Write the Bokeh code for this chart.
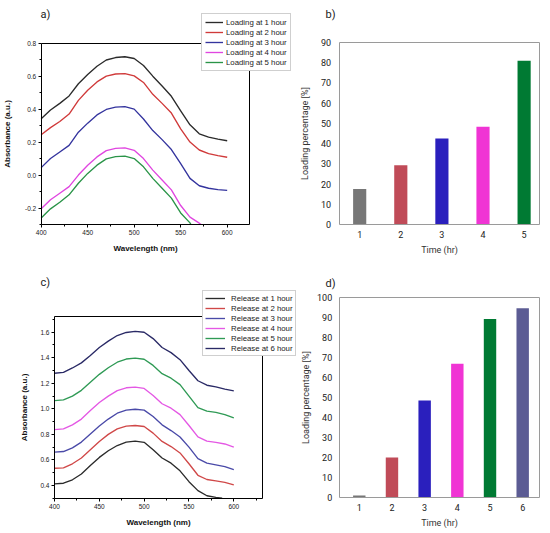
from bokeh.plotting import figure
from bokeh.models import (Legend, LegendItem, Label, LinearAxis, FixedTicker,
                          PrintfTickFormatter, Range1d)
from bokeh.layouts import column, row
from bokeh.embed import file_html
from bokeh.resources import INLINE

# ---------------- data ----------------
wavelength = [400, 410, 420, 430, 440, 450, 460, 470, 480, 490, 500,
              510, 520, 530, 540, 550, 560, 570, 580, 590, 600]
wavelength_load4 = [400, 410, 420, 430, 440, 450, 460, 470, 480, 490, 500,
                    510, 520, 530, 540, 550, 560, 570, 572]
wavelength_load5 = [400, 410, 420, 430, 440, 450, 460, 470, 480, 490, 500,
                    510, 520, 530, 540, 550, 560, 561]
wavelength_rel1 = [400, 410, 420, 430, 440, 450, 460, 470, 480, 490, 500,
                   510, 520, 530, 540, 550, 560, 570, 580, 587]

load_1h = [0.342, 0.395, 0.435, 0.480, 0.554, 0.610, 0.660, 0.698, 0.713, 0.718, 0.707,
           0.665, 0.600, 0.540, 0.478, 0.390, 0.305, 0.250, 0.230, 0.218, 0.208]
load_2h = [0.245, 0.288, 0.325, 0.370, 0.453, 0.515, 0.565, 0.600, 0.613, 0.615, 0.602,
           0.562, 0.490, 0.435, 0.376, 0.280, 0.200, 0.152, 0.130, 0.118, 0.108]
load_3h = [0.045, 0.100, 0.140, 0.180, 0.260, 0.315, 0.365, 0.398, 0.412, 0.415, 0.400,
           0.340, 0.270, 0.215, 0.155, 0.070, -0.020, -0.065, -0.080, -0.088, -0.093]
load_4h = [-0.205, -0.150, -0.110, -0.070, 0.000, 0.060, 0.110, 0.148, 0.162, 0.165, 0.150,
           0.100, 0.030, -0.030, -0.090, -0.185, -0.255, -0.292, -0.300]
load_5h = [-0.260, -0.205, -0.165, -0.120, -0.050, 0.010, 0.060, 0.098, 0.112, 0.115, 0.100,
           0.050, -0.020, -0.080, -0.140, -0.230, -0.290, -0.300]

rel_1h = [0.413, 0.418, 0.445, 0.490, 0.556, 0.620, 0.672, 0.713, 0.740, 0.747, 0.738,
          0.680, 0.615, 0.575, 0.515, 0.430, 0.360, 0.320, 0.307, 0.300]
rel_2h = [0.535, 0.538, 0.570, 0.615, 0.679, 0.745, 0.800, 0.843, 0.865, 0.870, 0.862,
          0.810, 0.745, 0.705, 0.655, 0.570, 0.480, 0.447, 0.436, 0.425, 0.405]
rel_3h = [0.661, 0.666, 0.695, 0.740, 0.804, 0.866, 0.920, 0.966, 0.990, 0.997, 0.990,
          0.940, 0.875, 0.830, 0.780, 0.700, 0.610, 0.575, 0.562, 0.548, 0.525]
rel_4h = [0.838, 0.843, 0.875, 0.920, 0.987, 1.050, 1.100, 1.143, 1.165, 1.170, 1.160,
          1.105, 1.040, 1.005, 0.955, 0.870, 0.780, 0.748, 0.737, 0.725, 0.700]
rel_5h = [1.065, 1.070, 1.100, 1.145, 1.209, 1.270, 1.322, 1.365, 1.390, 1.397, 1.388,
          1.340, 1.275, 1.240, 1.190, 1.100, 1.010, 0.982, 0.972, 0.955, 0.930]
rel_6h = [1.279, 1.285, 1.320, 1.360, 1.417, 1.480, 1.530, 1.574, 1.598, 1.607, 1.600,
          1.550, 1.480, 1.440, 1.385, 1.300, 1.220, 1.185, 1.172, 1.155, 1.141]

load_labels = ["Loading at 1 hour", "Loading at 2 hour", "Loading at 3 hour",
               "Loading at 4 hour", "Loading at 5 hour"]
release_labels = ["Release at 1 hour", "Release at 2 hour", "Release at 3 hour",
                  "Release at 4 hour", "Release at 5 hour", "Release at 6 hour"]

time_b = [1, 2, 3, 4, 5]
pct_b = [17.6, 29.4, 42.5, 48.3, 80.8]
time_d = [1, 2, 3, 4, 5, 6]
pct_d = [1.1, 20.1, 48.6, 66.9, 89.3, 94.6]

wl_ticks = [400, 450, 500, 550, 600]
abs_ticks_a = [-0.2, 0.0, 0.2, 0.4, 0.6, 0.8]
abs_ticks_c = [0.4, 0.6, 0.8, 1.0, 1.2, 1.4, 1.6]
pct_ticks_b = [0, 10, 20, 30, 40, 50, 60, 70, 80, 90]
pct_ticks_d = [0, 10, 20, 30, 40, 50, 60, 70, 80, 90, 100]

line_colors_a = ["#2b2b2b", "#d03a3a", "#34349e", "#e046e0", "#2a9448"]
line_colors_c = ["#2b2b2b", "#d04848", "#4a4aa8", "#e458e4", "#2f9a55", "#2a2a66"]
bar_colors_b = ["#777777", "#c04b58", "#2a1fbd", "#f034d4", "#007a33"]
bar_colors_d = ["#777777", "#c04b58", "#2a1fbd", "#f034d4", "#007a33", "#5c5c94"]

ORIGIN_FONT = "Liberation Sans"
BAR_FONT = "Roboto"


def make_fig(w, h, xr, yr):
    p = figure(width=w, height=h, x_range=Range1d(*xr), y_range=Range1d(*yr),
               title=None, toolbar_location=None, output_backend="svg",
               min_border=0, x_axis_location=None, y_axis_location=None)
    p.outline_line_color = None
    p.grid.visible = False
    return p


def box_axes(p, xbox, ybox, color, xticker, yticker, xlab, ylab, font, bold,
             tick_out, minor_out, lab_size, axlab_size):
    xb = LinearAxis(fixed_location=ybox[0], bounds=xbox, ticker=xticker, axis_label=xlab)
    yl = LinearAxis(fixed_location=xbox[0], bounds=ybox, ticker=yticker, axis_label=ylab)
    xt = LinearAxis(fixed_location=ybox[1], bounds=xbox, ticker=FixedTicker(ticks=[]))
    yr = LinearAxis(fixed_location=xbox[1], bounds=ybox, ticker=FixedTicker(ticks=[]))
    for ax in (xb, yl, xt, yr):
        ax.axis_line_color = color
        ax.axis_line_width = 1
        ax.major_tick_line_color = color if tick_out > 0 else None
        ax.minor_tick_line_color = color if minor_out > 0 else None
        ax.major_tick_out = tick_out
        ax.major_tick_in = 0
        ax.minor_tick_out = minor_out
        ax.minor_tick_in = 0
        ax.major_label_text_font = font
        ax.major_label_text_font_size = lab_size
        ax.major_label_text_color = "#222222"
        ax.axis_label_text_font = font
        ax.axis_label_text_font_style = "bold" if bold else "normal"
        ax.axis_label_text_font_size = axlab_size
        ax.axis_label_text_color = "#111111" if bold else "#333333"
    p.add_layout(xb, "below")
    p.add_layout(yl, "left")
    p.add_layout(xt, "above")
    p.add_layout(yr, "right")
    return xb, yl


def panel_label(p, text, x, y):
    p.add_layout(Label(x=x, y=y, x_units="screen", y_units="screen", text=text,
                       text_font=BAR_FONT, text_font_size="11px", text_color="#222222",
                       text_baseline="top", text_align="left"))


# ---------------- panel a (canvas 297 x 270) ----------------
pa = make_fig(297, 270, (356.23, 675.62), (-0.5791, 1.0591))
xa, ya = box_axes(pa, (400, 624), (-0.3, 0.8), "black",
                  FixedTicker(ticks=wl_ticks, minor_ticks=[425, 475, 525, 575]),
                  FixedTicker(ticks=abs_ticks_a, minor_ticks=[-0.3, -0.1, 0.1, 0.3, 0.5, 0.7]),
                  "Wavelength (nm)", "Absorbance (a.u.)", ORIGIN_FONT, True, 3, 2,
                  "6.5px", "8px")
ya.formatter = PrintfTickFormatter(format="%.1f")
xa.major_label_standoff = 2
ya.major_label_standoff = 2
xa.axis_label_standoff = 6
ya.axis_label_standoff = 10
series_a = [(wavelength, load_1h), (wavelength, load_2h), (wavelength, load_3h),
            (wavelength_load4, load_4h), (wavelength_load5, load_5h)]
items_a = []
for (xs, ys), col, lab in zip(series_a, line_colors_a, load_labels):
    r = pa.line(xs, ys, line_color=col, line_width=1.35, line_join="round")
    items_a.append(LegendItem(label=lab, renderers=[r]))
leg_a = Legend(items=items_a, location=(201, 199), margin=0, padding=3, spacing=0,
               label_height=10, glyph_height=10, glyph_width=18, label_standoff=3,
               label_text_font=ORIGIN_FONT, label_text_font_size="7.8px",
               label_text_color="#222222", border_line_color="#a0a0a0",
               background_fill_color="white", background_fill_alpha=1)
pa.add_layout(leg_a)
panel_label(pa, "a)", 40, 263)

# ---------------- panel b (canvas 253 x 270) ----------------
pb = make_fig(253, 270, (-0.513, 5.642), (-22.52, 110.55))
xb_, yb_ = box_axes(pb, (0.501, 5.375), (0, 90), "#9a9a9a",
                    FixedTicker(ticks=time_b), FixedTicker(ticks=pct_ticks_b),
                    "Time (hr)", "Loading percentage [%]", BAR_FONT, False, 0, 0,
                    "9px", "9px")
xb_.major_label_standoff = 6
xb_.axis_label_standoff = 4
yb_.major_label_standoff = 8
yb_.axis_label_standoff = 8
pb.vbar(x=time_b, top=pct_b, bottom=0, width=0.32, fill_color=bar_colors_b,
        line_color=None)
panel_label(pb, "b)", 28, 263)

# ---------------- panel c (canvas 297 x 263) ----------------
pc = make_fig(297, 263, (339.77, 671.05), (0.0243, 2.083))
xc, yc = box_axes(pc, (400, 632.5), (0.3, 1.725), "black",
                  FixedTicker(ticks=wl_ticks, minor_ticks=[425, 475, 525, 575, 625]),
                  FixedTicker(ticks=abs_ticks_c,
                              minor_ticks=[0.3, 0.5, 0.7, 0.9, 1.1, 1.3, 1.5, 1.7]),
                  "Wavelength (nm)", "Absorbance (a.u.)", ORIGIN_FONT, True, 3, 2,
                  "6.5px", "8px")
yc.formatter = PrintfTickFormatter(format="%.1f")
xc.major_label_standoff = 3
yc.major_label_standoff = 2
xc.axis_label_standoff = 5
yc.axis_label_standoff = 8
series_c = [(wavelength_rel1, rel_1h), (wavelength, rel_2h), (wavelength, rel_3h),
            (wavelength, rel_4h), (wavelength, rel_5h), (wavelength, rel_6h)]
items_c = []
for (xs, ys), col, lab in zip(series_c, line_colors_c, release_labels):
    r = pc.line(xs, ys, line_color=col, line_width=1.35, line_join="round")
    items_c.append(LegendItem(label=lab, renderers=[r]))
leg_c = Legend(items=items_c, location=(202, 177), margin=0, padding=2, spacing=0,
               label_height=10, glyph_height=10, glyph_width=20, label_standoff=6,
               label_text_font=ORIGIN_FONT, label_text_font_size="7.8px",
               label_text_color="#222222", border_line_color="#a0a0a0",
               background_fill_color="white", background_fill_alpha=1)
pc.add_layout(leg_c)
panel_label(pc, "c)", 40, 258)

# ---------------- panel d (canvas 253 x 263) ----------------
pd_ = make_fig(253, 263, (-0.891, 6.851), (-17.82, 113.48))
xd, yd = box_axes(pd_, (0.385, 6.523), (0, 100), "#9a9a9a",
                  FixedTicker(ticks=time_d), FixedTicker(ticks=pct_ticks_d),
                  "Time (hr)", "Loading percentage [%]", BAR_FONT, False, 0, 0,
                  "9px", "9px")
xd.major_label_standoff = 6
xd.axis_label_standoff = 4
yd.major_label_standoff = 7
yd.axis_label_standoff = 3
pd_.vbar(x=time_d, top=pct_d, bottom=0, width=0.38, fill_color=bar_colors_d,
         line_color=None)
panel_label(pd_, "d)", 28, 257)

layout = column(row(pa, pb), row(pc, pd_))
open("out.html", "w").write(file_html(layout, INLINE))
